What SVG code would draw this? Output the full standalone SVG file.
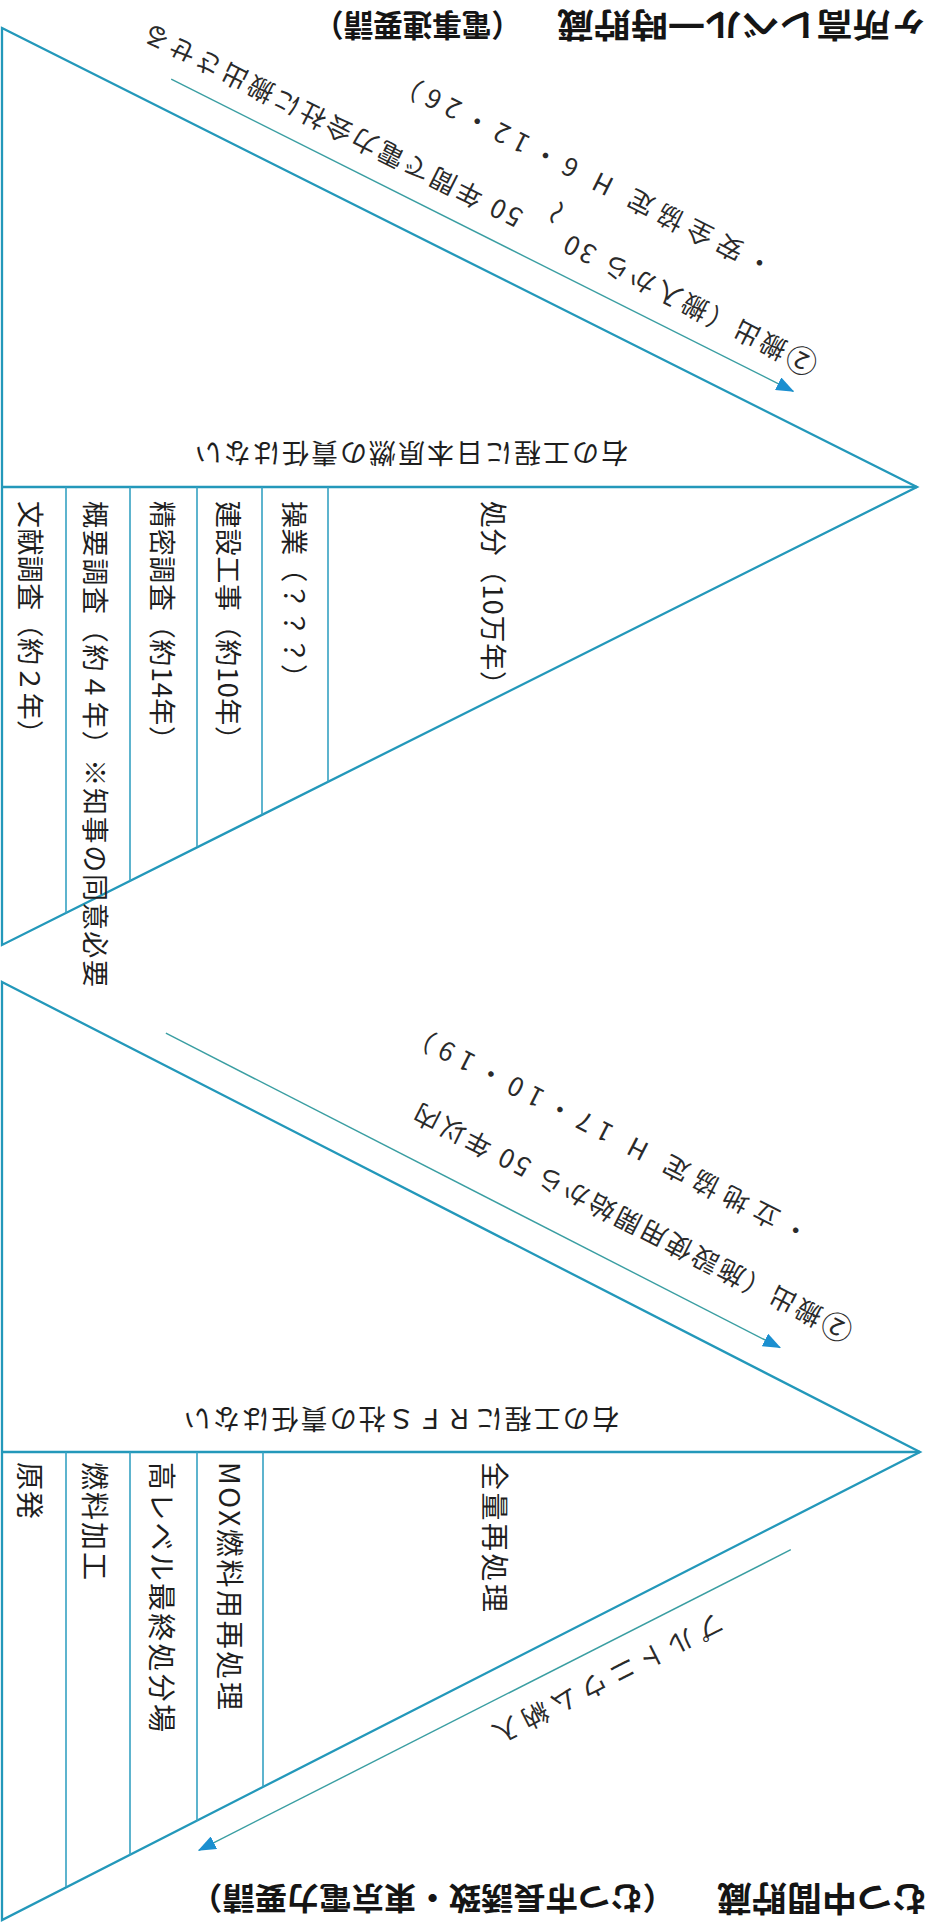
<svg xmlns="http://www.w3.org/2000/svg" width="929" height="1932" viewBox="0 0 929 1932">
<defs>
<style>
.tri{fill:none;stroke:#2398ba;stroke-width:2.3;stroke-linejoin:miter}
.col{fill:none;stroke:#36a2c2;stroke-width:1.6}
.arr{fill:none;stroke:#3a9ea2;stroke-width:1.4;marker-end:url(#ah)}
text{font-family:"Noto Sans CJK JP","Noto Sans CJK SC",sans-serif;fill:#1e1e1e;dominant-baseline:central}
.v1{font-size:27px}
.v2{font-size:28px}
.dg{font-size:26px;fill:#2a2a2a}
.big{font-size:31px}
.hd{font-weight:bold;fill:#151515}
</style>
<marker id="ah" viewBox="0 0 18 14" refX="17" refY="7" markerWidth="18" markerHeight="14" markerUnits="userSpaceOnUse" orient="auto">
<path d="M0,0 L18,7 L0,14 Z" fill="#1b8fd0"/>
</marker>
</defs>
<rect width="929" height="1932" fill="#ffffff"/>

<!-- headers -->
<g id="header-top">
<text class="hd" font-size="33" text-anchor="middle" textLength="370" lengthAdjust="spacingAndGlyphs" transform="translate(742,27) rotate(180)">ヶ所高レベル一時貯蔵</text>
<text class="hd" font-size="31" text-anchor="middle" textLength="207" lengthAdjust="spacingAndGlyphs" transform="translate(417.5,27) rotate(180)">（電事連要請）</text>
</g>
<g id="header-bottom">
<text class="hd" font-size="34" text-anchor="middle" textLength="210" lengthAdjust="spacingAndGlyphs" transform="translate(822,1900) rotate(180)">むつ中間貯蔵</text>
<text class="hd" font-size="31" text-anchor="middle" textLength="485" lengthAdjust="spacingAndGlyphs" transform="translate(432.5,1900) rotate(180)">（むつ市長誘致・東京電力要請）</text>
</g>

<!-- upper triangle -->
<g id="upper-triangle">
<path class="tri" d="M2,28 L917,487 L2,945 Z"/>
<path class="tri" d="M2,487 H917"/>
<path class="col" d="M66,487 V913 M130,487 V881 M197,487 V847 M262,487 V815 M328,487 V782"/>
</g>
<g id="upper-note">
<text class="v1" text-anchor="middle" textLength="433" lengthAdjust="spacing" transform="translate(411.5,454) rotate(180)">右の工程に日本原燃の責任はない</text>
</g>
<g id="upper-col-bunken"><text class="v1" textLength="246" lengthAdjust="spacing" transform="translate(31,501) rotate(90)">文献調査（約２年）</text></g>
<g id="upper-col-gaiyo"><text class="v1" textLength="486" lengthAdjust="spacing" transform="translate(96,501) rotate(90)">概要調査（約４年）※知事の同意必要</text></g>
<g id="upper-col-seimitsu"><text class="v1" textLength="252" lengthAdjust="spacing" transform="translate(163,501) rotate(90)">精密調査（約14年）</text></g>
<g id="upper-col-kensetsu"><text class="v1" textLength="252" lengthAdjust="spacing" transform="translate(229,501) rotate(90)">建設工事（約10年）</text></g>
<g id="upper-col-sogyo"><text class="v1" textLength="190" lengthAdjust="spacing" transform="translate(295,501) rotate(90)">操業（？？？）</text></g>
<g id="upper-col-shobun"><text class="v1" textLength="197" lengthAdjust="spacing" transform="translate(494,501) rotate(90)">処分（10万年）</text></g>

<!-- lower triangle -->
<g id="lower-triangle">
<path class="tri" d="M2,982 L920,1452 L2,1920 Z"/>
<path class="tri" d="M2,1452 H920"/>
<path class="col" d="M66,1452 V1887 M130,1452 V1855 M197,1452 V1821 M263,1452 V1787"/>
</g>
<g id="lower-note">
<text class="v1" text-anchor="middle" textLength="435" lengthAdjust="spacing" transform="translate(401.5,1420) rotate(180)">右の工程にＲＦＳ社の責任はない</text>
</g>
<g id="lower-col-genpatsu"><text class="v2" textLength="57" lengthAdjust="spacing" transform="translate(31,1462) rotate(90)">原発</text></g>
<g id="lower-col-kako"><text class="v2" textLength="118" lengthAdjust="spacing" transform="translate(96,1462) rotate(90)">燃料加工</text></g>
<g id="lower-col-saishu"><text class="v2" textLength="270" lengthAdjust="spacing" transform="translate(163,1462) rotate(90)">高レベル最終処分場</text></g>
<g id="lower-col-mox"><text class="v2" textLength="248" lengthAdjust="spacing" transform="translate(231,1462) rotate(90)">MOX燃料用再処理</text></g>
<g id="lower-col-zenryo"><text class="v2" textLength="150" lengthAdjust="spacing" transform="translate(496,1462) rotate(90)">全量再処理</text></g>

<!-- connectors -->
<g id="connectors">
<g transform="translate(0,28) rotate(26.64)">
<path class="arr" d="M176,-31 H872"/>
</g>
<g transform="translate(0,982) rotate(27.11)">
<path class="arr" d="M171,-30 H861"/>
</g>
<g transform="translate(2,1920) rotate(-26.92)">
<path class="arr" d="M871,27 H207"/>
</g>
</g>

<!-- connector labels -->
<g id="label-upper-out" transform="translate(0,28) rotate(26.64)">
<text class="dg" text-anchor="middle" textLength="750" lengthAdjust="spacing" transform="translate(506,-60) rotate(180)"><tspan class="big">②</tspan>搬出（搬入から 30 <tspan rotate="90">～</tspan> 50 年間で電力会社に搬出させる</text>
<text class="dg" text-anchor="middle" textLength="418" lengthAdjust="spacing" transform="translate(588,-129) rotate(180)">・安全協定 H 6・12・26）</text>
</g>
<g id="label-lower-out" transform="translate(0,982) rotate(27.11)">
<text class="dg" text-anchor="middle" textLength="489" lengthAdjust="spacing" transform="translate(673,-72) rotate(180)"><tspan class="big">②</tspan>搬出（施設使用開始から 50 年以内</text>
<text class="dg" text-anchor="middle" textLength="446" lengthAdjust="spacing" transform="translate(611.5,-140) rotate(180)">・立地協定 H 17・10・19）</text>
</g>
<g id="label-pluto" transform="translate(2,1920) rotate(-26.92)">
<text class="dg" font-size="27" text-anchor="middle" textLength="255" lengthAdjust="spacing" transform="translate(650,61) rotate(180)">プルトニウム納入</text>
</g>
</svg>
